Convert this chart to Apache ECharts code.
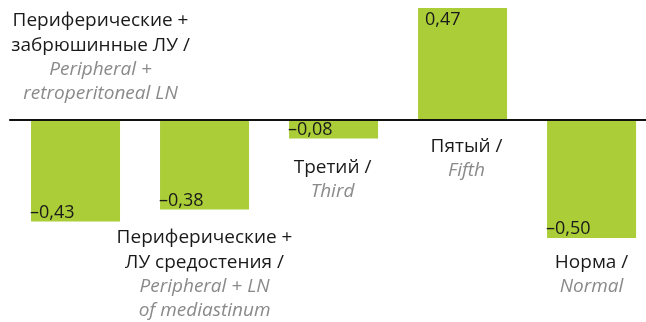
<!DOCTYPE html>
<html>
<head>
<meta charset="utf-8">
<script src="https://cdn.jsdelivr.net/npm/echarts@6/dist/echarts.min.js"></script>
<style>
  html, body { margin: 0; padding: 0; background: #ffffff; }
  #chart { width: 646px; height: 322px; }
</style>
</head>
<body>
<div id="chart"></div>
<script>
// Group names (Russian / English) and their index values
const categoriesRu = [
  ['Периферические +', 'забрюшинные ЛУ /'],
  ['Периферические +', 'ЛУ средостения /'],
  ['Третий /'],
  ['Пятый /'],
  ['Норма /']
];
const categoriesEn = [
  ['Peripheral +', 'retroperitoneal LN'],
  ['Peripheral + LN', 'of mediastinum'],
  ['Third'],
  ['Fifth'],
  ['Normal']
];
const values = [-0.43, -0.38, -0.08, 0.47, -0.50];

// Where each group caption sits: x shift from the bar centre, top y of the block
const captionLayout = [
  { dx: 25, top: 8 },
  { dx: 0, top: 225 },
  { dx: -1, top: 155 },
  { dx: 4, top: 134 },
  { dx: 0, top: 250 }
];

const FONT = '"Open Sans", "Noto Sans", sans-serif';
const BAR = '#aacd38';
const INK = '#1a1a1a';
const GREY = '#8a8a8a';

function fmt(v) {
  const s = Math.abs(v).toFixed(2).replace('.', ',');
  return v < 0 ? '\u2013' + s : s;
}

const chart = echarts.init(document.getElementById('chart'), null, { renderer: 'canvas' });

chart.setOption({
  animation: false,
  grid: { left: 10, top: 0, right: 0, bottom: 0, containLabel: false },
  xAxis: {
    type: 'value',
    min: -0.508,
    max: 4.422,
    z: 10,
    axisLine: { onZero: true, lineStyle: { color: '#111111', width: 2.2 } },
    axisTick: { show: false },
    axisLabel: { show: false },
    splitLine: { show: false }
  },
  yAxis: {
    type: 'value',
    min: -0.8544,
    max: 0.5042,
    show: false,
    splitLine: { show: false }
  },
  series: [{
    type: 'bar',
    barWidth: 89,
    itemStyle: { color: BAR },
    data: values.map((v, i) => ({
      value: [i, v],
      label: v < 0
        ? { position: 'insideBottomLeft', distance: 0, offset: [-1, 0] }
        : { position: 'insideTopLeft', distance: 0, offset: [7, 3] }
    })),
    label: {
      show: true,
      fontFamily: FONT,
      fontSize: 18,
      color: INK,
      formatter: p => fmt(p.value[1])
    }
  }]
});

// Two-language captions for each group
const graphics = categoriesRu.map((ru, i) => {
  const cx = chart.convertToPixel({ xAxisIndex: 0 }, i) + captionLayout[i].dx;
  const lines = ru.map(t => '{ru|' + t + '}').concat(categoriesEn[i].map(t => '{en|' + t + '}'));
  return {
    type: 'text',
    x: cx,
    y: captionLayout[i].top,
    style: {
      text: lines.join('\n'),
      align: 'center',
      verticalAlign: 'top',
      rich: {
        ru: { fontFamily: FONT, fontSize: 19, fill: INK, lineHeight: 25, align: 'center' },
        en: { fontFamily: FONT, fontSize: 19, fontStyle: 'italic', fill: GREY, lineHeight: 24, align: 'center' }
      }
    }
  };
});
chart.setOption({ graphic: graphics });
</script>
</body>
</html>
